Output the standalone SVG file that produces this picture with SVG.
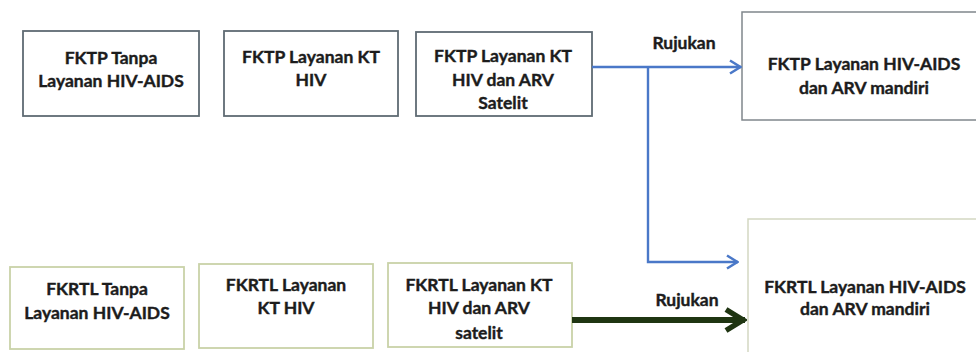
<svg xmlns="http://www.w3.org/2000/svg" width="976" height="352" viewBox="0 0 976 352">
<defs>
<style>
.t{font-family:Lato,"Open Sans","Liberation Sans",sans-serif;font-weight:bold;font-size:17.5px;fill:#1c1c1c;stroke:#1c1c1c;stroke-width:0.4;text-anchor:middle;dominant-baseline:central}
.bt{fill:#ffffff;stroke:#5f6b73;stroke-width:1.8}
.bb{fill:#ffffff;stroke:#c9d2a8;stroke-width:1.8}
.br{fill:#ffffff;stroke:#80878c;stroke-width:1.5}
.bg{fill:#ffffff;stroke:#d3d8c2;stroke-width:1.5}
.blue{fill:none;stroke:#4a78c8;stroke-width:2.4}
.green{fill:none;stroke:#1f3512;stroke-width:6}
</style>
<marker id="ab" viewBox="0 0 14 16" refX="13" refY="8" markerWidth="14" markerHeight="16" markerUnits="userSpaceOnUse" orient="auto">
<path d="M2,1.5 L12.5,8 L2,14.5" fill="none" stroke="#4a78c8" stroke-width="2.6"/>
</marker>
<marker id="ag" viewBox="0 0 24 26" refX="22" refY="13" markerWidth="24" markerHeight="26" markerUnits="userSpaceOnUse" orient="auto">
<path d="M3,2.5 L20,13 L3,23.5" fill="none" stroke="#1f3512" stroke-width="5.5"/>
</marker>
</defs>
<rect width="976" height="352" fill="#ffffff"/>
<g id="top1"><rect class="bt" x="23" y="31" width="176" height="85"/><text class="t" x="111" y="57">FKTP Tanpa</text><text class="t" x="111" y="80">Layanan HIV-AIDS</text></g>
<g id="top2"><rect class="bt" x="224" y="31" width="174" height="85"/><text class="t" x="311" y="56">FKTP Layanan KT</text><text class="t" x="311" y="79">HIV</text></g>
<g id="top3"><rect class="bt" x="416" y="32" width="176" height="84"/><text class="t" x="503" y="55">FKTP Layanan KT</text><text class="t" x="503" y="79">HIV dan ARV</text><text class="t" x="503" y="102">Satelit</text></g>
<g id="top4"><rect class="br" x="742" y="12" width="240" height="108"/><text class="t" x="864" y="63">FKTP Layanan HIV-AIDS</text><text class="t" x="864" y="87">dan ARV mandiri</text></g>
<g id="bot1"><rect class="bb" x="10" y="267" width="174" height="82"/><text class="t" x="97" y="288">FKRTL Tanpa</text><text class="t" x="97" y="312">Layanan HIV-AIDS</text></g>
<g id="bot2"><rect class="bb" x="199" y="264" width="174" height="84"/><text class="t" x="286" y="284">FKRTL  Layanan</text><text class="t" x="286" y="307">KT HIV</text></g>
<g id="bot3"><rect class="bb" x="388" y="263" width="184" height="84"/><text class="t" x="479" y="284">FKRTL Layanan KT</text><text class="t" x="479" y="307">HIV dan ARV</text><text class="t" x="479" y="332">satelit</text></g>
<g id="bot4"><rect class="bg" x="748" y="219" width="240" height="140"/><text class="t" x="865" y="286">FKRTL Layanan HIV-AIDS</text><text class="t" x="865" y="308">dan ARV mandiri</text></g>
<g id="connectors">
<path class="blue" d="M592,67 H741" marker-end="url(#ab)"/>
<path class="blue" d="M648,67 V262 H738" marker-end="url(#ab)"/>
<path class="green" d="M572,320 H745" marker-end="url(#ag)"/>
<text class="t" x="684" y="42">Rujukan</text>
<text class="t" x="687" y="299">Rujukan</text>
</g>
</svg>
